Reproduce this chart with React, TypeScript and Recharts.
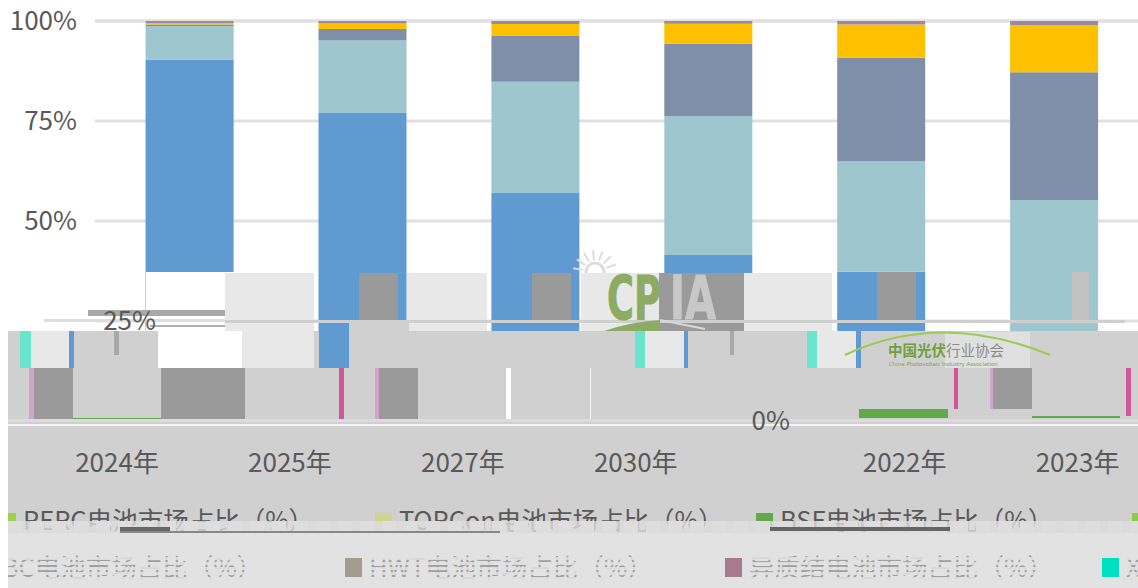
import React from 'react';
import { BarChart, Bar, XAxis, YAxis, CartesianGrid, Legend } from 'recharts';

const years = ['2024年', '2025年', '2027年', '2030年', '2022年', '2023年'];
const bsf = [0.3, 0, 0, 0, 2.1, 0.6];
const perc = [90.1, 77, 57, 41.5, 35.2, 19.4];
const topcon = [8.35, 18.1, 27.8, 34.7, 27.7, 35.2];
const hwt = [0.35, 2.9, 11.6, 18.1, 25.8, 32];
const xbc = [0.4, 1.4, 2.85, 5, 8.3, 11.8];
const other = [0.5, 0.6, 0.75, 0.7, 0.9, 1];
const yTicks = [0, 25, 50, 75, 100];

const legendNames = ['PERC', 'TOPCon', 'BSF', 'TBC', 'xBC', 'HWT', '异质结', 'X'];
const legendColors = ['#98d24e', '#cdd48c', '#62a94a', '#8dcc4b', '#ffc000', '#a39d8f', '#a87a90', '#00dfc0'];
const legendLefts = [-1, 375, 756, 1132, -35, 345, 725, 1102];

const rows = years.map((year, i) => ({
  year,
  bsf: bsf[i],
  perc: perc[i],
  topcon: topcon[i],
  hwt: hwt[i],
  xbc: xbc[i],
  other: other[i],
}));

// the reference is a damaged image: its labels slid away from their bars
const xLabelShift = [-73, -73, -73, -73, 23, 23];
const yLabelShift: Record<number, number> = { 0: 713, 25: 79 };

const GREY = '#d0d0d0';
const LIGHT = '#e8e8e8';
const DARK = '#9a9a9a';
const BLUE = '#5f9bd1';
const TEAL = '#69e5cd';
const PINK = '#d0559a';
const SOFTPINK = '#d8a0d0';
const GREEN = '#62a94a';

// x, y, w, h, fill of the damaged blocks, in paint order
const patches: [number, number, number, number, string][] = [
  [146, 272, 88, 60, '#ffffff'],
  [225, 273, 89, 58, LIGHT],
  [44, 319, 181, 3, '#dddddd'],
  [88, 310, 137, 6, '#a8a8a8'],
  [150, 325, 75, 2, '#b0b0b0'],
  [359, 273, 39, 50, DARK],
  [407, 273, 80, 58, LIGHT],
  [532, 273, 39, 50, DARK],
  [581, 273, 78, 58, LIGHT],
  [659, 273, 85, 58, DARK],
  [744, 273, 88, 58, LIGHT],
  [877, 272, 39, 51, DARK],
  [1072, 272, 17, 48, '#c2c2c2'],
  [225, 320, 900, 3, '#cfcfcf'],
  [8, 331, 1130, 202, GREY],
  [8, 533, 1130, 55, '#e2e2e2'],
  [349, 323, 60, 8, GREY],
  [20, 331, 11, 37, TEAL],
  [31, 331, 38, 37, LIGHT],
  [69, 331, 5, 37, BLUE],
  [114, 331, 5, 24, '#a8a8a8'],
  [158, 331, 84, 37, '#ffffff'],
  [242, 331, 72, 37, LIGHT],
  [319, 331, 30, 37, BLUE],
  [635, 331, 10, 37, TEAL],
  [645, 331, 39, 37, LIGHT],
  [684, 331, 4, 37, BLUE],
  [730, 331, 4, 24, '#a8a8a8'],
  [807, 331, 10, 37, TEAL],
  [817, 331, 39, 37, LIGHT],
  [856, 331, 5, 37, BLUE],
  [945, 332, 85, 36, '#e0e0e0'],
  [29, 368, 5, 51, SOFTPINK],
  [34, 368, 39, 51, DARK],
  [73, 418, 88, 1, GREEN],
  [161, 368, 84, 51, DARK],
  [339, 368, 5, 51, PINK],
  [375, 368, 4, 51, SOFTPINK],
  [379, 368, 39, 51, DARK],
  [506, 368, 5, 51, '#ffffff'],
  [590, 368, 1, 51, '#f4f4f4'],
  [859, 409, 89, 9, GREEN],
  [954, 368, 4, 41, PINK],
  [990, 368, 3, 41, SOFTPINK],
  [993, 368, 39, 41, DARK],
  [1032, 416, 88, 2, GREEN],
  [1126, 368, 5, 48, PINK],
  [8, 419, 1130, 3, '#dcdcdc'],
  [8, 424, 1130, 2, '#f4f4f4'],
];

const sunRays = [-80, -55, -30, -5, 20, 45, 70];

function Damage() {
  return (
    <svg width={1138} height={588} style={{ position: 'absolute', left: 0, top: 0 }}>
      <circle cx={595} cy={272} r={9} fill="none" stroke="#dddddd" strokeWidth={3} />
      {sunRays.map((angle) => (
        <line
          key={angle}
          x1={595 + 12 * Math.sin((angle * Math.PI) / 180)}
          y1={272 - 12 * Math.cos((angle * Math.PI) / 180)}
          x2={595 + 22 * Math.sin((angle * Math.PI) / 180)}
          y2={272 - 22 * Math.cos((angle * Math.PI) / 180)}
          stroke="#dddddd"
          strokeWidth={2}
        />
      ))}
      {patches.map(([x, y, width, height, fill], i) => (
        <rect key={i} x={x} y={y} width={width} height={height} fill={fill} />
      ))}
      <text x={607} y={319} textLength={54} lengthAdjust="spacingAndGlyphs" fontFamily="DejaVu Sans" fontWeight={700} fontSize={60} fill="#8eab63" stroke="#8eab63">CP</text>
      <text x={670} y={319} textLength={46} lengthAdjust="spacingAndGlyphs" fontFamily="DejaVu Sans" fontWeight={700} fontSize={60} fill="#c8c8c8" stroke="#c8c8c8">IA</text>
      <path d="M604 331 Q630 322 660 320 L660 331 Z" fill="#8eab63" />
      <path d="M660 320 L705 329" stroke="#d8d8d8" strokeWidth={2} fill="none" />
      <path d="M845 355 Q940 310 1050 355" stroke="#9ccb52" strokeWidth={2} fill="none" />
      <text x={888} y={356} fontFamily="Noto Sans CJK SC" fontSize={14.5} fontWeight={700} fill="#6fa03c">中国光伏</text>
      <text x={946} y={356} fontFamily="Noto Sans CJK SC" fontSize={14.5} fill="#8c8c8c">行业协会</text>
      <text x={889} y={366} fontFamily="DejaVu Sans" fontSize={5.5} fill="#7fa648">China Photovoltaic Industry Association</text>
    </svg>
  );
}

function XTick({ x, y, payload, index }: any) {
  return (
    <text x={x + xLabelShift[index]} y={y} dy={43} textAnchor="middle" fontFamily="Noto Sans CJK SC" fontSize={26} fill="#595959">
      {payload.value}
    </text>
  );
}

function YTick({ x, y, payload }: any) {
  const shift = yLabelShift[payload.value] || 0;
  return (
    <text x={x - 10 + shift} y={y} dy={9} textAnchor="end" fontFamily="Noto Sans CJK SC" fontSize={26} fill="#595959">
      {payload.value + '%'}
    </text>
  );
}

function LegendRows() {
  return (
    <div style={{ position: 'relative', width: 1138, height: 90, fontFamily: 'Noto Sans CJK SC', fontSize: 25.5, color: '#595959' }}>
      {legendNames.map((name, i) => {
        const top = i < 4 ? 3 : 50;
        return (
          <div key={name} style={{ position: 'absolute', left: legendLefts[i], top, whiteSpace: 'nowrap', lineHeight: '36px' }}>
            <span style={{ display: 'inline-block', width: 17, height: 17, marginRight: 7, background: legendColors[i] }} />
            <span style={i < 4 ? undefined : { color: '#a0a0a0' }}>{name}电池市场占比（%）</span>
          </div>
        );
      })}
    </div>
  );
}

export default function App() {
  return (
    <div style={{ position: 'fixed', left: 0, top: 0, width: 1138, height: 588, overflow: 'hidden', background: '#fff' }}>
      <div style={{ position: 'absolute', left: 0, top: 0 }}>
        <BarChart width={1141} height={588} data={rows} margin={{ top: 21, right: 0, bottom: 167, left: 95 }} barSize={88} barCategoryGap={0}>
          <CartesianGrid horizontal vertical={false} stroke="#e0e0e0" strokeWidth={3} />
          <XAxis dataKey="year" hide padding={{ left: 8.6, right: 0 }} />
          <YAxis type="number" domain={[0, 100]} ticks={yTicks} hide />
          <Bar dataKey="bsf" stackId="a" fill={GREEN} isAnimationActive={false} />
          <Bar dataKey="perc" stackId="a" fill={BLUE} isAnimationActive={false} />
          <Bar dataKey="topcon" stackId="a" fill="#9dc6ce" isAnimationActive={false} />
          <Bar dataKey="hwt" stackId="a" fill="#7f8fa9" isAnimationActive={false} />
          <Bar dataKey="xbc" stackId="a" fill="#ffc000" isAnimationActive={false} />
          <Bar dataKey="other" stackId="a" fill="#9b8a9e" isAnimationActive={false} />
        </BarChart>
      </div>
      <Damage />
      <div style={{ position: 'absolute', left: 0, top: 0 }}>
        <BarChart width={1141} height={588} data={rows} margin={{ top: 21, right: 0, bottom: 0, left: 0 }} barSize={88} barCategoryGap={0}>
          <XAxis dataKey="year" height={77} axisLine={false} tickLine={false} tick={<XTick />} interval={0} padding={{ left: 8.6, right: 0 }} />
          <YAxis type="number" domain={[0, 100]} ticks={yTicks} width={95} axisLine={false} tickLine={false} tick={<YTick />} />
          <Bar dataKey="other" fill="transparent" isAnimationActive={false} />
          <Legend content={<LegendRows />} wrapperStyle={{ left: 0, top: 498, width: 1138, height: 90 }} />
        </BarChart>
      </div>
      <div style={{ position: 'absolute', left: 8, top: 521, width: 1130, height: 12, background: 'repeating-linear-gradient(90deg, #dedede 0 14px, rgba(222,222,222,0.8) 14px 22px)' }} />
      <div style={{ position: 'absolute', left: 120, top: 527, width: 50, height: 5, background: '#666' }} />
      <div style={{ position: 'absolute', left: 120, top: 531, width: 380, height: 2, background: '#888' }} />
      <div style={{ position: 'absolute', left: 770, top: 527, width: 180, height: 4, background: '#666' }} />
      <div style={{ position: 'absolute', left: 0, top: 552, width: 1138, height: 28, background: 'repeating-linear-gradient(0deg, rgba(226,226,226,0.85) 0 3px, transparent 3px 5px)' }} />
      {legendLefts.slice(5).map((left, i) => (
        <div key={left} style={{ position: 'absolute', left, top: 558, width: 17, height: 17, background: legendColors[i + 5] }} />
      ))}
      <div style={{ position: 'absolute', left: 0, top: 331, width: 8, height: 257, background: '#fff' }} />
    </div>
  );
}
